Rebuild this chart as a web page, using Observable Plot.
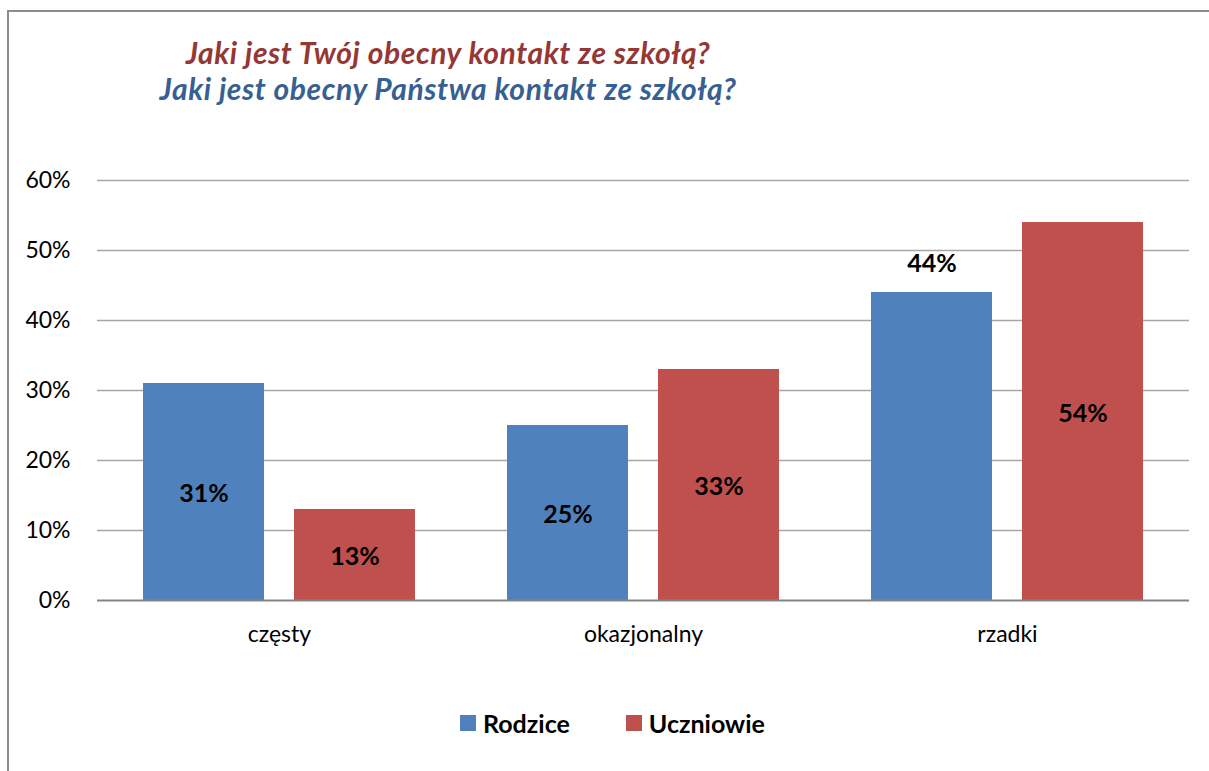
<!DOCTYPE html>
<html>
<head>
<meta charset="utf-8">
<script src="https://cdn.jsdelivr.net/npm/d3@7"></script>
<script src="https://cdn.jsdelivr.net/npm/@observablehq/plot@0.6"></script>
<style>
  html, body { margin: 0; padding: 0; background: #fff; }
  #wrap { position: relative; width: 1209px; height: 771px; overflow: hidden; font-family: Lato, "Open Sans", sans-serif; }
  #frame { position: absolute; left: 7px; top: 10px; right: -10px; bottom: -10px;
           border-left: 2px solid #8c8c8c; border-top: 2px solid #8c8c8c; }
  #chart { position: absolute; left: 0; top: 0; }
  #title { position: absolute; left: 0; width: 896px; top: 34px; text-align: center;
           font-weight: bold; font-style: italic; font-size: 30px; line-height: 36px; letter-spacing: 0.6px; }
  #legend { position: absolute; left: 460px; top: 708px; display: flex; align-items: center;
            font-weight: bold; font-size: 25px; color: #000; }
  .item { display: flex; align-items: center; margin-right: 56px; }
  .sw { width: 16px; height: 16px; margin-right: 7px; }
</style>
</head>
<body>
<div id="wrap">
  <div id="frame"></div>
  <div id="chart"></div>
  <div id="title"></div>
  <div id="legend"></div>
</div>
<script>
// ---- data ----
const titleLines = ["Jaki jest Twój obecny kontakt ze szkołą?", "Jaki jest obecny Państwa kontakt ze szkołą?"];
const titleColors = ["#953735", "#376092"];
const categories = ["częsty", "okazjonalny", "rzadki"];
const series = ["Rodzice", "Uczniowie"];
const rodzice = [0.31, 0.25, 0.44];
const uczniowie = [0.13, 0.33, 0.54];
const yTicks = [0, 0.1, 0.2, 0.3, 0.4, 0.5, 0.6];
const seriesColors = ["#4F81BD", "#C0504D"];
const labelsAbove = ["rzadki|Rodzice"];

// ---- table ----
const data = categories.flatMap((c, i) => [
  {cat: c, ser: series[0], v: rodzice[i]},
  {cat: c, ser: series[1], v: uczniowie[i]}
]);
const isAbove = d => labelsAbove.includes(d.cat + "|" + d.ser);
const fmt = d3.format(".0%");

// ---- title ----
const title = document.getElementById("title");
titleLines.forEach((t, i) => {
  const div = document.createElement("div");
  div.textContent = t;
  div.style.color = titleColors[i];
  title.appendChild(div);
});

// ---- legend ----
const legend = document.getElementById("legend");
series.forEach((s, i) => {
  const item = document.createElement("div");
  item.className = "item";
  const sw = document.createElement("span");
  sw.className = "sw";
  sw.style.background = seriesColors[i];
  const lab = document.createElement("span");
  lab.textContent = s;
  item.appendChild(sw);
  item.appendChild(lab);
  legend.appendChild(item);
});

// ---- chart ----
const chart = Plot.plot({
  width: 1209,
  height: 680,
  marginLeft: 97,
  marginRight: 20,
  marginTop: 180,
  marginBottom: 80,
  style: {fontFamily: "Lato, 'Open Sans', sans-serif", fontSize: "23px", color: "#000", background: "transparent", overflow: "visible"},
  fx: {domain: categories, padding: 0, axis: "bottom", tickSize: 0, tickPadding: 25, label: null, fontSize: 24},
  x: {domain: series, paddingInner: 0.2, paddingOuter: 0.3, axis: null},
  y: {domain: [0, 0.6], ticks: yTicks, tickFormat: fmt, tickSize: 0, tickPadding: 27, label: null},
  color: {domain: series, range: seriesColors},
  marks: [
    Plot.ruleY(yTicks.filter(d => d > 0), {stroke: "#a6a6a6", strokeWidth: 1.5}),
    Plot.barY(data, {fx: "cat", x: "ser", y: "v", fill: "ser"}),
    Plot.ruleY([0], {stroke: "#868686", strokeWidth: 2}),
    Plot.text(data.filter(d => !isAbove(d)), {fx: "cat", x: "ser", y: d => d.v / 2, text: d => fmt(d.v),
      fontWeight: "bold", fontSize: 25, fill: "#000", dy: 2}),
    Plot.text(data.filter(isAbove), {fx: "cat", x: "ser", y: "v", text: d => fmt(d.v),
      fontWeight: "bold", fontSize: 25, fill: "#000", dy: -29})
  ]
});
document.getElementById("chart").appendChild(chart);
</script>
</body>
</html>
